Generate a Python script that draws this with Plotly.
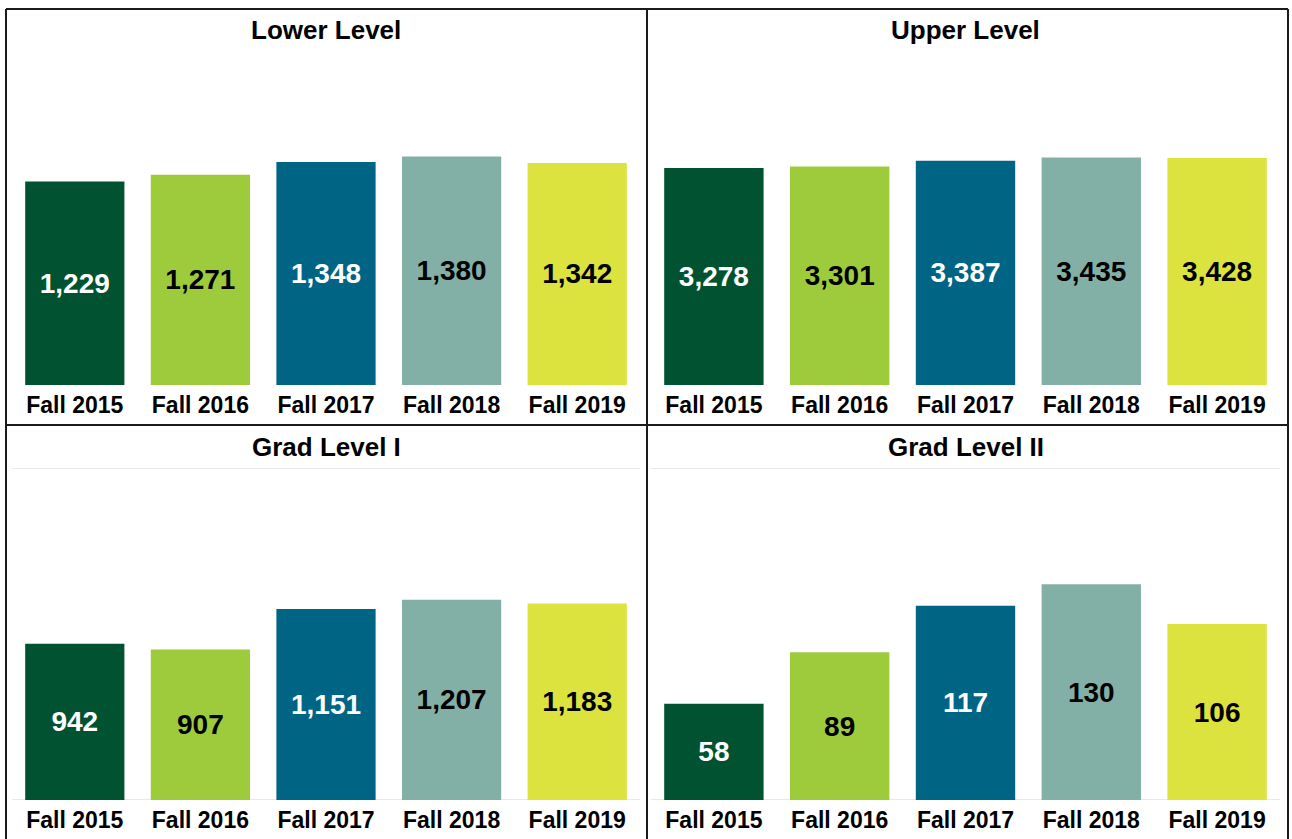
import plotly.graph_objects as go

# 学期
terms = ['Fall 2015', 'Fall 2016', 'Fall 2017', 'Fall 2018', 'Fall 2019']

# 各层级人数
lower_level = [1229, 1271, 1348, 1380, 1342]
upper_level = [3278, 3301, 3387, 3435, 3428]
grad_level_1 = [942, 907, 1151, 1207, 1183]
grad_level_2 = [58, 89, 117, 130, 106]

panel_titles = ['Lower Level', 'Upper Level', 'Grad Level I', 'Grad Level II']
y_max = [2000, 5000, 2000, 200]

bar_colors = ['#005230', '#9ECB3B', '#006585', '#82B0A6', '#DCE33F']
text_colors = ['white', 'black', 'white', 'black', 'black']

W, H = 1292, 839


def px_x(v):
    return v / W


def px_y(v):
    return 1 - v / H


def bars():
    series = [lower_level, upper_level, grad_level_1, grad_level_2]
    # 每个子图的像素区域 (left, right, top, bottom)
    boxes = [(12, 640, 54, 385), (651, 1280, 54, 385),
             (12, 640, 468, 800), (651, 1280, 468, 800)]
    title_y = [30, 30, 447, 447]

    fig = go.Figure()
    layout = dict(
        width=W, height=H,
        margin=dict(l=0, r=0, t=0, b=0),
        paper_bgcolor='white', plot_bgcolor='white',
        showlegend=False,
        font=dict(family='Liberation Sans, Arial', color='black'),
        bargap=0.21,
    )
    annotations = []
    shapes = []
    for i, vals in enumerate(series):
        n = '' if i == 0 else str(i + 1)
        l, r, t, b = boxes[i]
        fig.add_trace(go.Bar(
            x=terms, y=vals,
            xaxis='x' + n, yaxis='y' + n,
            marker=dict(color=bar_colors, line=dict(width=0)),
            texttemplate='%{y:,.0f}',
            textposition='inside',
            insidetextanchor='middle',
            textangle=0,
            constraintext='none',
            textfont=dict(size=28, color=text_colors,
                          family='Liberation Sans, Arial', weight='bold'),
            hoverinfo='skip',
        ))
        layout['xaxis' + n] = dict(
            domain=[px_x(l), px_x(r)], anchor='y' + n,
            showline=False, showgrid=False, ticks='',
            tickfont=dict(size=23, weight='bold'),
            ticklabelstandoff=4,
            fixedrange=True,
        )
        layout['yaxis' + n] = dict(
            domain=[px_y(b), px_y(t)], anchor='x' + n,
            range=[0, y_max[i]],
            showticklabels=False, showgrid=False,
            zeroline=False, showline=False,
            fixedrange=True,
        )
        # 下面两个图有浅灰色网格线
        if i >= 2:
            for yv in [0, y_max[i]]:
                shapes.append(dict(
                    type='line', xref='x%s domain' % n, yref='y' + n,
                    x0=0, x1=1, y0=yv, y1=yv, layer='below',
                    line=dict(color='#e2e2e2', width=1.5),
                ))
        annotations.append(dict(
            text='<b>%s</b>' % panel_titles[i],
            x=px_x((l + r) / 2), y=px_y(title_y[i]),
            xref='paper', yref='paper',
            xanchor='center', yanchor='middle',
            showarrow=False, font=dict(size=26),
        ))
    layout['annotations'] = annotations

    # 外框和分隔线
    line = dict(color='#1a1a1a', width=2)
    frame = [
        dict(type='line', x0=px_x(6), x1=px_x(1288), y0=px_y(9), y1=px_y(9)),
        dict(type='line', x0=px_x(6), x1=px_x(6), y0=px_y(9), y1=0),
        dict(type='line', x0=px_x(1288), x1=px_x(1288), y0=px_y(9), y1=0),
        dict(type='line', x0=px_x(647), x1=px_x(647), y0=px_y(9), y1=0),
        dict(type='line', x0=px_x(6), x1=px_x(1288), y0=px_y(425), y1=px_y(425)),
    ]
    for s in frame:
        s.update(xref='paper', yref='paper', line=line)
    layout['shapes'] = shapes + frame

    fig.update_layout(**layout)
    # 去掉页面默认边距, 不显示工具栏
    fig.write_html('out.html',
                   config={'displayModeBar': False},
                   post_script="document.body.style.margin='0';"
                               "document.body.style.overflow='hidden';")


if __name__ == '__main__':
    bars()
